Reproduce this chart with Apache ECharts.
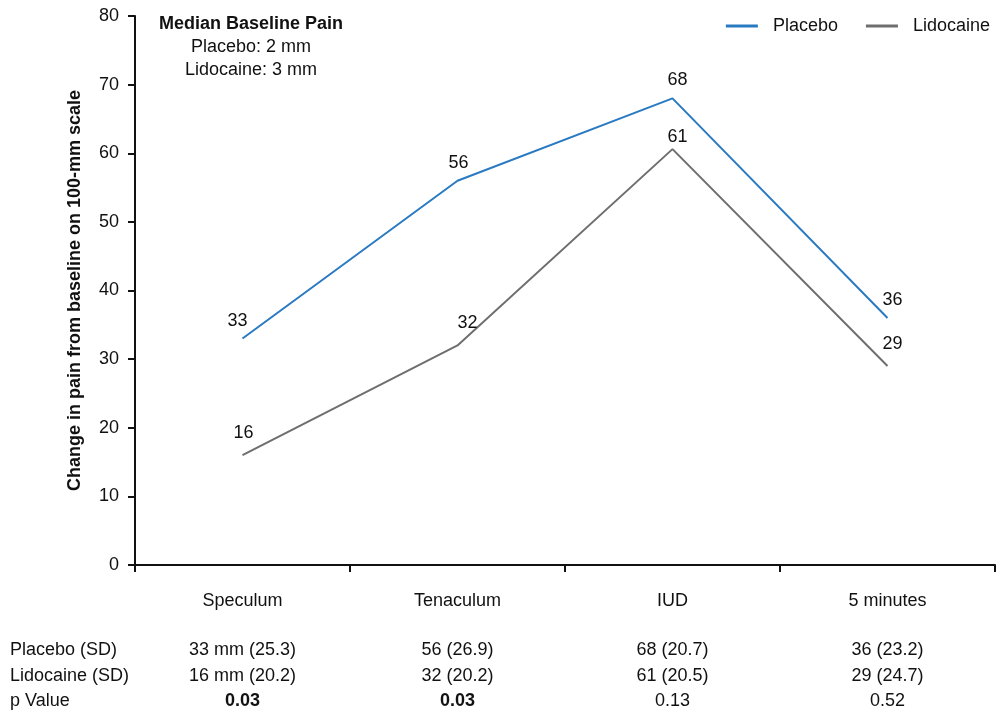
<!DOCTYPE html>
<html><head><meta charset="utf-8">
<script src="https://cdn.jsdelivr.net/npm/echarts@6/dist/echarts.min.js"></script>
<style>html,body{margin:0;padding:0;background:#fff}#c{width:997px;height:711px}</style>
</head><body><div id="c"></div>
<script>
const categories = ['Speculum', 'Tenaculum', 'IUD', '5 minutes'];
const placebo = [33, 56, 68, 36];
const lidocaine = [16, 32, 60.6, 29];
const placeboLabels = ['33', '56', '68', '36'];
const lidocaineLabels = ['16', '32', '61', '29'];
const placeboSD = ['33 mm (25.3)', '56 (26.9)', '68 (20.7)', '36 (23.2)'];
const lidocaineSD = ['16 mm (20.2)', '32 (20.2)', '61 (20.5)', '29 (24.7)'];
const pValues = ['0.03', '0.03', '0.13', '0.52'];
const pBold = [true, true, false, false];
const rowLabels = ['Placebo (SD)', 'Lidocaine (SD)', 'p Value'];
const yTicks = [0, 10, 20, 30, 40, 50, 60, 70, 80];

// label nudges (style only)
const placeboLabelShift = [[-5, 0], [1, 0], [5, 0], [5, 0]];
const lidocaineLabelShift = [[1, 0], [10, 0], [5, 10], [5, 0]];

const FONT = '"Liberation Sans", Arial, Helvetica, sans-serif';
const FS = 18;
const TXT = '#111';
const chart = echarts.init(document.getElementById('c'), null, {renderer: 'canvas'});

function tableAxis(offset, values, bold) {
  return {
    type: 'category', data: categories, position: 'bottom', offset: offset, gridIndex: 0,
    axisLine: {show: false}, axisTick: {show: false},
    axisLabel: {
      margin: 0, fontSize: FS, color: TXT, fontFamily: FONT, interval: 0,
      formatter: function (v, i) { return bold && bold[i] ? '{b|' + values[i] + '}' : values[i]; },
      rich: {b: {fontWeight: 'bold', fontSize: FS, color: TXT, fontFamily: FONT}}
    }
  };
}

function gtext(x, y, text, align, bold) {
  return {type: 'text', x: x, y: y, style: {text: text, textAlign: align, textVerticalAlign: 'middle',
    fontSize: FS, fontWeight: bold ? 'bold' : 'normal', fill: TXT, fontFamily: FONT}};
}

function withLabels(values, labels, shifts) {
  return values.map(function (v, i) {
    return {value: v, label: {formatter: labels[i], offset: shifts[i]}};
  });
}

chart.setOption({
  animation: false,
  textStyle: {fontFamily: FONT},
  grid: {left: 135, right: 2, top: 16, bottom: 146, containLabel: false},
  legend: {
    right: 2, top: 12, itemWidth: 32, itemHeight: 3, itemGap: 28,
    icon: 'rect',
    textStyle: {fontSize: FS, color: TXT, fontFamily: FONT, padding: [0, 0, 0, 10]},
    data: ['Placebo', 'Lidocaine']
  },
  xAxis: [
    {
      type: 'category', data: categories, boundaryGap: true,
      axisLine: {lineStyle: {color: TXT, width: 2}},
      axisTick: {show: true, alignWithLabel: false, length: 7, lineStyle: {color: TXT, width: 2}},
      axisLabel: {margin: 27, fontSize: FS, color: TXT, fontFamily: FONT, interval: 0}
    },
    tableAxis(76, placeboSD, null),
    tableAxis(102, lidocaineSD, null),
    tableAxis(127, pValues, pBold)
  ],
  yAxis: {
    type: 'value', min: 0, max: 80, interval: 10,
    name: 'Change in pain from baseline on 100-mm scale',
    nameLocation: 'middle', nameGap: 51, nameRotate: 90,
    nameTextStyle: {fontSize: 18, fontWeight: 'bold', color: TXT, fontFamily: FONT},
    axisLine: {show: true, lineStyle: {color: TXT, width: 2}},
    axisTick: {show: true, length: 7, lineStyle: {color: TXT, width: 2}},
    axisLabel: {fontSize: FS, color: TXT, margin: 16, fontFamily: FONT,
      formatter: function (v) { return yTicks.indexOf(v) >= 0 ? String(v) : ''; }},
    splitLine: {show: false}
  },
  graphic: [
    gtext(10, 650, rowLabels[0], 'left', false),
    gtext(10, 676, rowLabels[1], 'left', false),
    gtext(10, 701, rowLabels[2], 'left', false),
    gtext(251, 24, 'Median Baseline Pain', 'center', true),
    gtext(251, 47, 'Placebo: 2 mm', 'center', false),
    gtext(251, 70, 'Lidocaine: 3 mm', 'center', false)
  ],
  series: [
    {
      name: 'Placebo', type: 'line', data: withLabels(placebo, placeboLabels, placeboLabelShift),
      symbol: 'circle', symbolSize: 0.01, showSymbol: true,
      lineStyle: {color: '#2a7ac2', width: 2}, itemStyle: {color: '#2a7ac2'},
      label: {show: true, position: 'top', distance: 9, fontSize: FS, color: TXT, fontFamily: FONT}
    },
    {
      name: 'Lidocaine', type: 'line', data: withLabels(lidocaine, lidocaineLabels, lidocaineLabelShift),
      symbol: 'circle', symbolSize: 0.01, showSymbol: true,
      lineStyle: {color: '#6e6e6e', width: 2}, itemStyle: {color: '#6e6e6e'},
      label: {show: true, position: 'top', distance: 13, fontSize: FS, color: TXT, fontFamily: FONT}
    }
  ]
});
</script></body></html>
